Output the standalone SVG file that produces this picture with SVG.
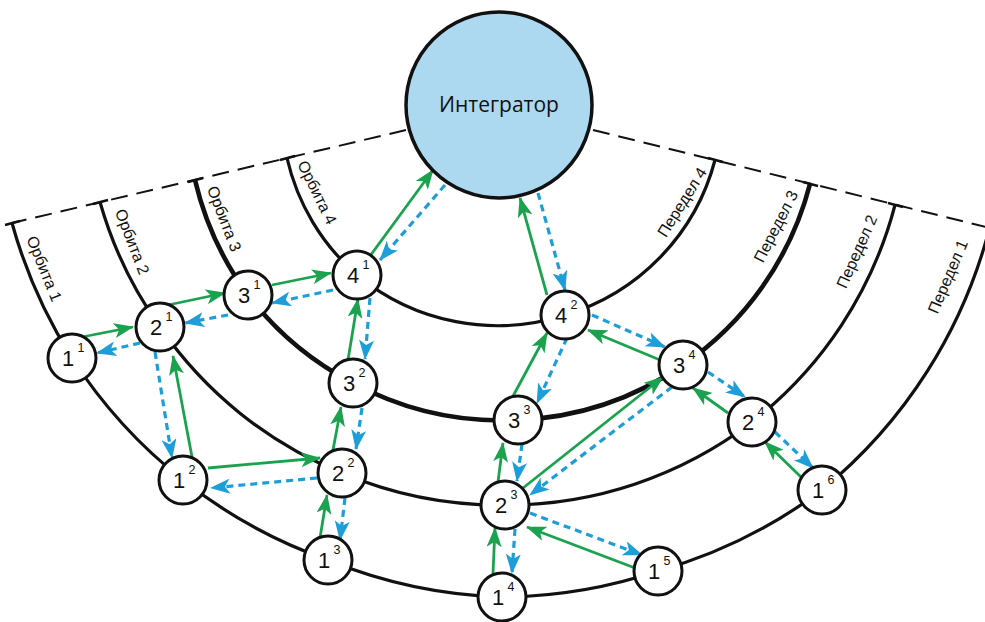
<svg xmlns="http://www.w3.org/2000/svg" width="985" height="622" viewBox="0 0 985 622">
<style>
.bg{fill:#ffffff}
.arc{fill:none;stroke:#111;stroke-width:3.2}
.arc3{fill:none;stroke:#111;stroke-width:4.6}
.dash{fill:none;stroke:#111;stroke-width:2;stroke-dasharray:17 9}
.cap{stroke:#111;stroke-width:2.5}
.lbl{font-family:"Liberation Sans",Arial,sans-serif;font-size:16px;fill:#111;text-anchor:middle}
.node circle{fill:#fff;stroke:#111;stroke-width:3}
.n{font-family:"Liberation Sans",Arial,sans-serif;font-size:22px;fill:#111;text-anchor:middle}
.s{font-family:"Liberation Sans",Arial,sans-serif;font-size:12.5px;fill:#111;text-anchor:middle}
.g{stroke:#1aa24f;stroke-width:2.8;fill:none;marker-end:url(#ag)}
.b{stroke:#1e9ed8;stroke-width:3.2;fill:none;stroke-dasharray:7 5;marker-end:url(#ab)}
</style>
<defs>
<marker id="ag" markerUnits="userSpaceOnUse" markerWidth="20" markerHeight="15" viewBox="0 0 20 15" refX="19" refY="7.5" orient="auto"><path d="M0,0 L20,7.5 L0,15 L5,7.5 Z" fill="#1aa24f"/></marker>
<marker id="ab" markerUnits="userSpaceOnUse" markerWidth="20" markerHeight="15" viewBox="0 0 20 15" refX="19" refY="7.5" orient="auto"><path d="M0,0 L20,7.5 L0,15 L5,7.5 Z" fill="#1e9ed8"/></marker>
</defs>
<rect class="bg" x="0" y="0" width="985" height="622"/>
<g id="frame">
<line class="dash" x1="406" y1="130" x2="12" y2="223"/>
<line class="dash" x1="593" y1="130" x2="990" y2="228"/>
<line class="cap" x1="5" y1="225" x2="20" y2="221"/>
<line class="cap" x1="93" y1="204" x2="108" y2="200"/>
<line class="cap" x1="188" y1="182" x2="203" y2="178"/>
<line class="cap" x1="280" y1="160" x2="295" y2="156"/>
<line class="cap" x1="708" y1="158" x2="723" y2="162"/>
<line class="cap" x1="803" y1="182" x2="818" y2="186"/>
<line class="cap" x1="888" y1="203" x2="903" y2="207"/>
<path class="arc" d="M12,223 A500,500 0 0 0 72,358 A500,500 0 0 0 183,480 A500,500 0 0 0 328,560 A500,500 0 0 0 502,597 A500,500 0 0 0 658,571 A500,500 0 0 0 822,490 A500,500 0 0 0 990,226"/>
<path class="arc" d="M100,202 A405,405 0 0 0 160,327 A405,405 0 0 0 342,473 A405,405 0 0 0 505,505 A405,405 0 0 0 752,422 A405,405 0 0 0 895,205"/>
<path class="arc3" d="M195,180 A315,315 0 0 0 248,295 A315,315 0 0 0 353,383 A315,315 0 0 0 518,420 A315,315 0 0 0 683,365 A315,315 0 0 0 810,184"/>
<path class="arc" d="M287,158 A220,220 0 0 0 357,275 A220,220 0 0 0 565,315 A220,220 0 0 0 715,160"/>
<text class="lbl" transform="translate(41,270) rotate(68)" y="2">Орбита 1</text>
<text class="lbl" transform="translate(129,243) rotate(69)" y="2">Орбита 2</text>
<text class="lbl" transform="translate(221,220) rotate(69)" y="2">Орбита 3</text>
<text class="lbl" transform="translate(314,194) rotate(64)" y="2">Орбита 4</text>
<text class="lbl" transform="translate(685,204) rotate(-58)" y="2">Передел 4</text>
<text class="lbl" transform="translate(779,228) rotate(-63)" y="2">Передел 3</text>
<text class="lbl" transform="translate(860,253) rotate(-66)" y="2">Передел 2</text>
<text class="lbl" transform="translate(951,278) rotate(-67)" y="2">Передел 1</text>
</g>
<g id="connectors">
<line class="g" x1="82" y1="337" x2="133" y2="327"/>
<line class="g" x1="168" y1="305" x2="225" y2="293"/>
<line class="g" x1="272" y1="285" x2="331" y2="273"/>
<line class="g" x1="370" y1="256" x2="433" y2="170"/>
<line class="g" x1="192" y1="457" x2="173" y2="356"/>
<line class="g" x1="208" y1="468" x2="320" y2="458"/>
<line class="g" x1="333" y1="450" x2="341" y2="407"/>
<line class="g" x1="348" y1="360" x2="358" y2="299"/>
<line class="g" x1="320" y1="538" x2="327" y2="495"/>
<line class="g" x1="493" y1="573" x2="495" y2="528"/>
<line class="g" x1="498" y1="482" x2="503" y2="443"/>
<line class="g" x1="512" y1="398" x2="547" y2="333"/>
<line class="g" x1="547" y1="295" x2="520" y2="198"/>
<line class="g" x1="635" y1="568" x2="527" y2="527"/>
<line class="g" x1="523" y1="488" x2="663" y2="377"/>
<line class="g" x1="660" y1="360" x2="588" y2="330"/>
<line class="g" x1="728" y1="413" x2="693" y2="388"/>
<line class="g" x1="802" y1="478" x2="765" y2="442"/>
<line class="b" x1="140" y1="343" x2="97" y2="353"/>
<line class="b" x1="228" y1="315" x2="185" y2="323"/>
<line class="b" x1="333" y1="290" x2="272" y2="303"/>
<line class="b" x1="445" y1="185" x2="380" y2="260"/>
<line class="b" x1="155" y1="352" x2="172" y2="458"/>
<line class="b" x1="317" y1="478" x2="211" y2="488"/>
<line class="b" x1="362" y1="408" x2="356" y2="449"/>
<line class="b" x1="370" y1="298" x2="365" y2="359"/>
<line class="b" x1="345" y1="498" x2="340" y2="540"/>
<line class="b" x1="515" y1="529" x2="512" y2="573"/>
<line class="b" x1="522" y1="444" x2="517" y2="481"/>
<line class="b" x1="567" y1="338" x2="537" y2="403"/>
<line class="b" x1="538" y1="193" x2="565" y2="290"/>
<line class="b" x1="530" y1="513" x2="642" y2="555"/>
<line class="b" x1="672" y1="387" x2="530" y2="495"/>
<line class="b" x1="592" y1="315" x2="665" y2="347"/>
<line class="b" x1="708" y1="372" x2="745" y2="397"/>
<line class="b" x1="775" y1="432" x2="813" y2="468"/>
</g>
<g id="integrator">
<circle cx="499" cy="105" r="93" fill="#acd9ef" stroke="#111" stroke-width="3.5"/>
<text x="499" y="112" font-family="'Open Sans','Liberation Sans',sans-serif" font-size="21" fill="#111" text-anchor="middle">Интегратор</text>
</g>
<g id="n1_1" class="node"><circle cx="72" cy="358" r="24"/><text class="n" x="68" y="366">1</text><text class="s" x="81" y="352">1</text></g>
<g id="n2_1" class="node"><circle cx="160" cy="327" r="24"/><text class="n" x="156" y="335">2</text><text class="s" x="169" y="321">1</text></g>
<g id="n3_1" class="node"><circle cx="248" cy="295" r="24"/><text class="n" x="244" y="303">3</text><text class="s" x="257" y="289">1</text></g>
<g id="n4_1" class="node"><circle cx="357" cy="275" r="24"/><text class="n" x="353" y="283">4</text><text class="s" x="366" y="269">1</text></g>
<g id="n1_2" class="node"><circle cx="183" cy="480" r="24"/><text class="n" x="179" y="488">1</text><text class="s" x="192" y="474">2</text></g>
<g id="n2_2" class="node"><circle cx="342" cy="473" r="24"/><text class="n" x="338" y="481">2</text><text class="s" x="351" y="467">2</text></g>
<g id="n3_2" class="node"><circle cx="353" cy="383" r="24"/><text class="n" x="349" y="391">3</text><text class="s" x="362" y="377">2</text></g>
<g id="n4_2" class="node"><circle cx="565" cy="315" r="24"/><text class="n" x="561" y="323">4</text><text class="s" x="574" y="309">2</text></g>
<g id="n1_3" class="node"><circle cx="328" cy="560" r="24"/><text class="n" x="324" y="568">1</text><text class="s" x="337" y="554">3</text></g>
<g id="n2_3" class="node"><circle cx="505" cy="505" r="24"/><text class="n" x="501" y="513">2</text><text class="s" x="514" y="499">3</text></g>
<g id="n3_3" class="node"><circle cx="518" cy="420" r="24"/><text class="n" x="514" y="428">3</text><text class="s" x="527" y="414">3</text></g>
<g id="n3_4" class="node"><circle cx="683" cy="365" r="24"/><text class="n" x="679" y="373">3</text><text class="s" x="692" y="359">4</text></g>
<g id="n1_4" class="node"><circle cx="502" cy="597" r="24"/><text class="n" x="498" y="605">1</text><text class="s" x="511" y="591">4</text></g>
<g id="n2_4" class="node"><circle cx="752" cy="422" r="24"/><text class="n" x="748" y="430">2</text><text class="s" x="761" y="416">4</text></g>
<g id="n1_5" class="node"><circle cx="658" cy="571" r="24"/><text class="n" x="654" y="579">1</text><text class="s" x="667" y="565">5</text></g>
<g id="n1_6" class="node"><circle cx="822" cy="490" r="24"/><text class="n" x="818" y="498">1</text><text class="s" x="831" y="484">6</text></g>
</svg>
